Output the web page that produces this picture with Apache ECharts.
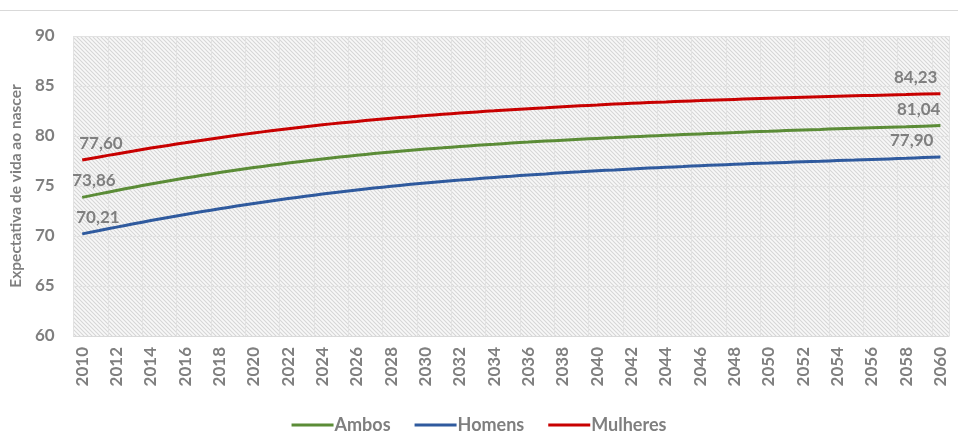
<!DOCTYPE html>
<html>
<head>
<meta charset="utf-8">
<script src="https://cdn.jsdelivr.net/npm/echarts@6/dist/echarts.min.js"></script>
<style>
html,body{margin:0;padding:0;background:#fff;}
#c{width:958px;height:432px;}
</style>
</head>
<body>
<div id="c"></div>
<script>
const years = [];
for (let y = 2010; y <= 2060; y++) years.push(String(y));

const yAxisTicks = [60, 65, 70, 75, 80, 85, 90];

const ambos = [73.86,74.21,74.55,74.88,75.20,75.50,75.79,76.07,76.34,76.60,
  76.84,77.07,77.29,77.50,77.70,77.89,78.07,78.24,78.40,78.55,
  78.69,78.82,78.95,79.07,79.18,79.29,79.39,79.49,79.58,79.67,
  79.76,79.84,79.92,80.00,80.07,80.14,80.21,80.28,80.34,80.42,
  80.48,80.54,80.60,80.66,80.72,80.77,80.82,80.87,80.92,80.98,81.04];

const homens = [70.21,70.55,70.89,71.22,71.54,71.85,72.15,72.44,72.72,72.99,
  73.25,73.50,73.74,73.97,74.19,74.40,74.60,74.79,74.97,75.14,
  75.30,75.45,75.59,75.73,75.86,75.98,76.10,76.21,76.32,76.42,
  76.52,76.61,76.70,76.79,76.87,76.95,77.03,77.10,77.17,77.24,
  77.30,77.36,77.42,77.48,77.54,77.59,77.65,77.71,77.77,77.84,77.90];

const mulheres = [77.60,77.91,78.21,78.50,78.79,79.06,79.32,79.58,79.83,80.07,
  80.30,80.52,80.73,80.93,81.12,81.30,81.46,81.62,81.77,81.91,
  82.04,82.17,82.29,82.41,82.52,82.63,82.73,82.83,82.93,83.02,
  83.10,83.19,83.27,83.34,83.41,83.48,83.54,83.60,83.66,83.72,
  83.77,83.82,83.87,83.92,83.97,84.02,84.06,84.10,84.14,84.19,84.23];

const seriesNames = ['Ambos', 'Homens', 'Mulheres'];
const seriesColors = ['#5b8c37', '#2f5a9e', '#c80000'];
// per-series label x offsets [start, end]
const labelDx = [[-10, 0], [-6, -7], [-3, -3]];

const textColor = '#7f7f7f';
const FONT = 'Lato, "Open Sans", sans-serif';

// hatched background pattern
const pc = document.createElement('canvas');
pc.width = 4; pc.height = 4;
const px = pc.getContext('2d');
px.fillStyle = '#f8f8f8';
px.fillRect(0, 0, 4, 4);
px.strokeStyle = '#d6d6d6';
px.lineWidth = 1.1;
px.beginPath();
px.moveTo(-1, -1); px.lineTo(5, 5);
px.moveTo(-1, 3); px.lineTo(1, 5);
px.moveTo(3, -1); px.lineTo(5, 1);
px.stroke();

function fmt(v) { return v.toFixed(2).replace('.', ','); }

function buildData(arr, idx) {
  return arr.map((v, i) => {
    if (i === 0 || i === arr.length - 1) {
      const isEnd = i === arr.length - 1;
      return {
        value: v,
        label: {
          show: true,
          position: 'top',
          distance: 8,
          align: isEnd ? 'right' : 'left',
          offset: [isEnd ? labelDx[idx][1] : labelDx[idx][0], 0],
          formatter: () => fmt(v),
          color: textColor,
          fontFamily: FONT,
          fontWeight: 'bold',
          fontSize: 17
        }
      };
    }
    return v;
  });
}

const dataSets = [ambos, homens, mulheres];

const chart = echarts.init(document.getElementById('c'), null, {renderer: 'canvas'});
chart.setOption({
  animation: false,
  backgroundColor: '#ffffff',
  textStyle: {fontFamily: FONT},
  graphic: [{
    type: 'line',
    shape: {x1: 0, y1: 10.5, x2: 958, y2: 10.5},
    style: {stroke: '#d9d9d9', lineWidth: 1}
  }],
  grid: {
    left: 72, right: 9, top: 36, bottom: 96,
    containLabel: false,
    show: true,
    borderWidth: 0,
    backgroundColor: {image: pc, repeat: 'repeat'}
  },
  legend: {
    data: seriesNames,
    top: 411,
    left: 'center',
    icon: 'rect',
    itemWidth: 42,
    itemHeight: 3,
    itemGap: 24,
    textStyle: {color: textColor, fontFamily: FONT, fontWeight: 'bold', fontSize: 18, padding: [0, 0, 0, -4]}
  },
  xAxis: {
    type: 'category',
    data: years,
    boundaryGap: true,
    axisLine: {show: true, lineStyle: {color: '#d9d9d9', width: 1}},
    axisTick: {show: false},
    axisLabel: {
      interval: 1,
      rotate: 90,
      margin: 11,
      color: textColor,
      fontFamily: FONT,
      fontWeight: 'bold',
      fontSize: 17
    },
    splitLine: {show: true, interval: 1, lineStyle: {color: '#e2e2e2', width: 1}}
  },
  yAxis: {
    type: 'value',
    min: yAxisTicks[0],
    max: yAxisTicks[yAxisTicks.length - 1],
    interval: 5,
    name: 'Expectativa de vida ao nascer',
    nameLocation: 'middle',
    nameGap: 47,
    nameRotate: 90,
    nameTextStyle: {color: textColor, fontFamily: FONT, fontWeight: 'bold', fontSize: 15.5},
    axisLine: {show: false},
    axisTick: {show: false},
    axisLabel: {color: textColor, fontFamily: FONT, fontWeight: 'bold', fontSize: 17, margin: 19},
    splitLine: {show: true, lineStyle: {color: '#e2e2e2', width: 1}}
  },
  series: seriesNames.map((name, i) => ({
    name: name,
    type: 'line',
    smooth: true,
    data: buildData(dataSets[i], i),
    symbol: 'circle',
    symbolSize: 0,
    showSymbol: true,
    showAllSymbol: true,
    lineStyle: {color: seriesColors[i], width: 3},
    itemStyle: {color: seriesColors[i]},
    emphasis: {disabled: true},
    z: 3 + i
  }))
});
</script>
</body>
</html>
